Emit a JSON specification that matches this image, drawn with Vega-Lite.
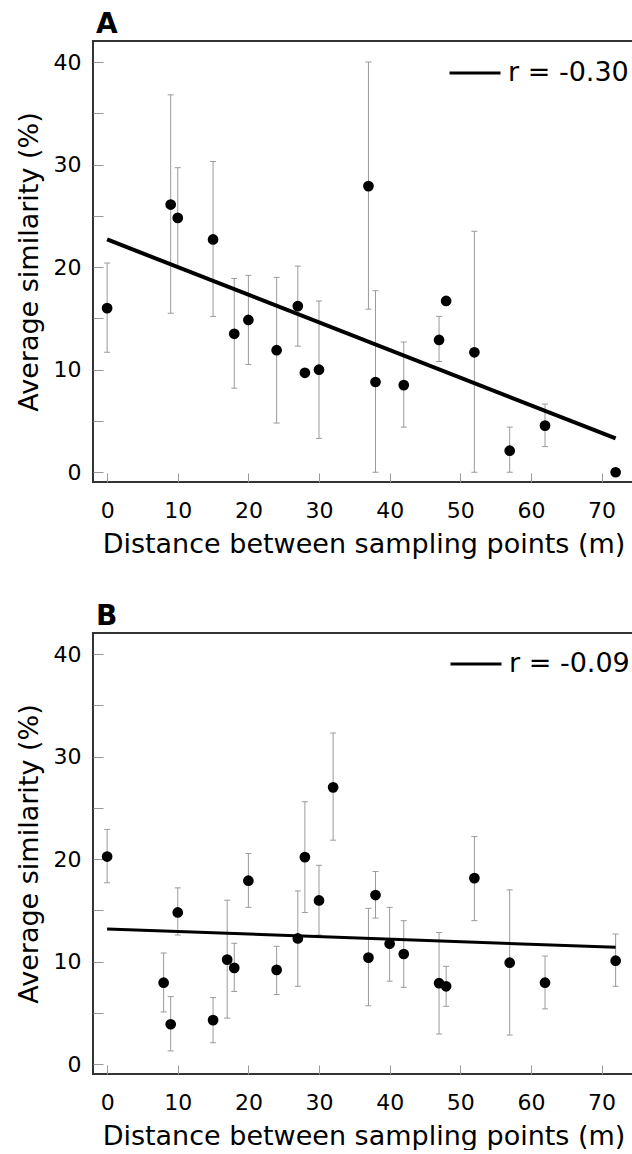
{
  "$schema": "https://vega.github.io/schema/vega-lite/v6.json",
  "background": "white",
  "padding": {"left": 14, "top": 10, "right": 0, "bottom": 0},
  "spacing": 44,
  "datasets": {
    "a": [
      {"d": 0, "s": 16.0, "lo": 11.7, "hi": 20.4},
      {"d": 9, "s": 26.1, "lo": 15.5, "hi": 36.8},
      {"d": 10, "s": 24.8, "lo": 20.0, "hi": 29.7},
      {"d": 15, "s": 22.7, "lo": 15.2, "hi": 30.3},
      {"d": 18, "s": 13.5, "lo": 8.2, "hi": 18.9},
      {"d": 20, "s": 14.85, "lo": 10.5, "hi": 19.2},
      {"d": 24, "s": 11.9, "lo": 4.8, "hi": 19.0},
      {"d": 27, "s": 16.2, "lo": 12.3, "hi": 20.1},
      {"d": 28, "s": 9.7, "lo": null, "hi": null},
      {"d": 30, "s": 10.0, "lo": 3.3, "hi": 16.7},
      {"d": 37, "s": 27.9, "lo": 15.9, "hi": 40.0},
      {"d": 38, "s": 8.8, "lo": 0.0, "hi": 17.7},
      {"d": 42, "s": 8.5, "lo": 4.4, "hi": 12.7},
      {"d": 47, "s": 12.9, "lo": 10.8, "hi": 15.2},
      {"d": 48, "s": 16.7, "lo": null, "hi": null},
      {"d": 52, "s": 11.7, "lo": 0.0, "hi": 23.5},
      {"d": 57, "s": 2.1, "lo": 0.0, "hi": 4.4},
      {"d": 62, "s": 4.55, "lo": 2.5, "hi": 6.65},
      {"d": 72, "s": 0.0, "lo": null, "hi": null}
    ],
    "afit": [
      {"d": 0, "s": 22.7, "fit": "r = -0.30"},
      {"d": 72, "s": 3.3, "fit": "r = -0.30"}
    ],
    "b": [
      {"d": 0, "s": 20.25, "lo": 17.7, "hi": 22.9},
      {"d": 8, "s": 7.95, "lo": 5.1, "hi": 10.85},
      {"d": 9, "s": 3.9, "lo": 1.3, "hi": 6.6},
      {"d": 10, "s": 14.8, "lo": 12.6, "hi": 17.2},
      {"d": 15, "s": 4.3, "lo": 2.1, "hi": 6.5},
      {"d": 17, "s": 10.2, "lo": 4.5, "hi": 16.0},
      {"d": 18, "s": 9.4, "lo": 7.1, "hi": 11.8},
      {"d": 20, "s": 17.9, "lo": 15.3, "hi": 20.55},
      {"d": 24, "s": 9.2, "lo": 6.8, "hi": 11.5},
      {"d": 27, "s": 12.27, "lo": 7.6, "hi": 16.9},
      {"d": 28, "s": 20.2, "lo": 14.8, "hi": 25.6},
      {"d": 30, "s": 15.97, "lo": 12.6, "hi": 19.4},
      {"d": 32, "s": 27.0, "lo": 21.85, "hi": 32.3},
      {"d": 37, "s": 10.4, "lo": 5.7, "hi": 15.2},
      {"d": 38, "s": 16.5, "lo": 14.25, "hi": 18.8},
      {"d": 40, "s": 11.75, "lo": 8.1, "hi": 15.3},
      {"d": 42, "s": 10.75, "lo": 7.5, "hi": 14.0},
      {"d": 47, "s": 7.9, "lo": 2.95, "hi": 12.85},
      {"d": 48, "s": 7.6, "lo": 5.65, "hi": 9.55},
      {"d": 52, "s": 18.15, "lo": 14.0, "hi": 22.2},
      {"d": 57, "s": 9.9, "lo": 2.85, "hi": 17.0},
      {"d": 62, "s": 7.95, "lo": 5.4, "hi": 10.55},
      {"d": 72, "s": 10.1, "lo": 7.6, "hi": 12.7}
    ],
    "bfit": [
      {"d": 0, "s": 13.2, "fit": "r = -0.09"},
      {"d": 72, "s": 11.4, "fit": "r = -0.09"}
    ]
  },
  "vconcat": [
    {
      "title": {"text": "A"},
      "width": 541,
      "height": 441,
      "layer": [
        {
          "data": {"name": "a"},
          "transform": [{"filter": "datum.lo != null"}],
          "mark": {"type": "rule", "color": "#9a9a9a", "strokeWidth": 1},
          "encoding": {
            "x": {"field": "d", "type": "quantitative", "scale": {"domain": [-2, 74.6], "nice": false, "zero": false}, "axis": {"title": "Distance between sampling points (m)", "values": [0, 10, 20, 30, 40, 50, 60, 70], "tickSize": -9, "labelPadding": 27, "titlePadding": 10}},
            "y": {"field": "lo", "type": "quantitative", "scale": {"domain": [-0.95, 42.05], "nice": false, "zero": false}, "axis": {"title": "Average similarity (%)", "values": [0, 5, 10, 15, 20, 25, 30, 35, 40], "labelExpr": "datum.value % 10 === 0 ? datum.label : ''", "tickSize": -10, "labelPadding": 22, "titlePadding": 10}},
            "y2": {"field": "hi"}
          }
        },
        {
          "data": {"name": "a"},
          "transform": [{"filter": "datum.lo != null"}],
          "mark": {"type": "tick", "orient": "horizontal", "size": 6, "thickness": 1, "color": "#9a9a9a", "opacity": 1},
          "encoding": {
            "x": {"field": "d", "type": "quantitative", "axis": {"title": "Distance between sampling points (m)", "values": [0, 10, 20, 30, 40, 50, 60, 70], "tickSize": -9, "labelPadding": 27, "titlePadding": 10}},
            "y": {"field": "lo", "type": "quantitative", "axis": {"title": "Average similarity (%)", "values": [0, 5, 10, 15, 20, 25, 30, 35, 40], "labelExpr": "datum.value % 10 === 0 ? datum.label : ''", "tickSize": -10, "labelPadding": 22, "titlePadding": 10}}
          }
        },
        {
          "data": {"name": "a"},
          "transform": [{"filter": "datum.lo != null"}],
          "mark": {"type": "tick", "orient": "horizontal", "size": 6, "thickness": 1, "color": "#9a9a9a", "opacity": 1},
          "encoding": {
            "x": {"field": "d", "type": "quantitative", "axis": {"title": "Distance between sampling points (m)", "values": [0, 10, 20, 30, 40, 50, 60, 70], "tickSize": -9, "labelPadding": 27, "titlePadding": 10}},
            "y": {"field": "hi", "type": "quantitative", "axis": {"title": "Average similarity (%)", "values": [0, 5, 10, 15, 20, 25, 30, 35, 40], "labelExpr": "datum.value % 10 === 0 ? datum.label : ''", "tickSize": -10, "labelPadding": 22, "titlePadding": 10}}
          }
        },
        {
          "data": {"name": "a"},
          "mark": {"type": "circle", "size": 115, "color": "black", "opacity": 1},
          "encoding": {
            "x": {"field": "d", "type": "quantitative", "axis": {"title": "Distance between sampling points (m)", "values": [0, 10, 20, 30, 40, 50, 60, 70], "tickSize": -9, "labelPadding": 27, "titlePadding": 10}},
            "y": {"field": "s", "type": "quantitative", "axis": {"title": "Average similarity (%)", "values": [0, 5, 10, 15, 20, 25, 30, 35, 40], "labelExpr": "datum.value % 10 === 0 ? datum.label : ''", "tickSize": -10, "labelPadding": 22, "titlePadding": 10}}
          }
        },
        {
          "data": {"name": "afit"},
          "mark": {"type": "line", "strokeWidth": 4},
          "encoding": {
            "x": {"field": "d", "type": "quantitative", "axis": {"title": "Distance between sampling points (m)", "values": [0, 10, 20, 30, 40, 50, 60, 70], "tickSize": -9, "labelPadding": 27, "titlePadding": 10}},
            "y": {"field": "s", "type": "quantitative", "axis": {"title": "Average similarity (%)", "values": [0, 5, 10, 15, 20, 25, 30, 35, 40], "labelExpr": "datum.value % 10 === 0 ? datum.label : ''", "tickSize": -10, "labelPadding": 22, "titlePadding": 10}},
            "color": {"field": "fit", "type": "nominal", "scale": {"range": ["black"]}, "legend": {"orient": "top-right", "title": null, "symbolType": "stroke", "symbolSize": 2601, "symbolStrokeWidth": 3, "symbolStrokeColor": "black", "labelFontSize": 27, "labelFont": "DejaVu Sans", "labelColor": "black", "labelOffset": 6, "offset": 5, "padding": 0}}
          }
        }
      ]
    },
    {
      "title": {"text": "B"},
      "width": 541,
      "height": 441,
      "layer": [
        {
          "data": {"name": "b"},
          "transform": [{"filter": "datum.lo != null"}],
          "mark": {"type": "rule", "color": "#9a9a9a", "strokeWidth": 1},
          "encoding": {
            "x": {"field": "d", "type": "quantitative", "scale": {"domain": [-2, 74.6], "nice": false, "zero": false}, "axis": {"title": "Distance between sampling points (m)", "values": [0, 10, 20, 30, 40, 50, 60, 70], "tickSize": -9, "labelPadding": 27, "titlePadding": 10}},
            "y": {"field": "lo", "type": "quantitative", "scale": {"domain": [-0.95, 42.05], "nice": false, "zero": false}, "axis": {"title": "Average similarity (%)", "values": [0, 5, 10, 15, 20, 25, 30, 35, 40], "labelExpr": "datum.value % 10 === 0 ? datum.label : ''", "tickSize": -10, "labelPadding": 22, "titlePadding": 10}},
            "y2": {"field": "hi"}
          }
        },
        {
          "data": {"name": "b"},
          "transform": [{"filter": "datum.lo != null"}],
          "mark": {"type": "tick", "orient": "horizontal", "size": 6, "thickness": 1, "color": "#9a9a9a", "opacity": 1},
          "encoding": {
            "x": {"field": "d", "type": "quantitative", "axis": {"title": "Distance between sampling points (m)", "values": [0, 10, 20, 30, 40, 50, 60, 70], "tickSize": -9, "labelPadding": 27, "titlePadding": 10}},
            "y": {"field": "lo", "type": "quantitative", "axis": {"title": "Average similarity (%)", "values": [0, 5, 10, 15, 20, 25, 30, 35, 40], "labelExpr": "datum.value % 10 === 0 ? datum.label : ''", "tickSize": -10, "labelPadding": 22, "titlePadding": 10}}
          }
        },
        {
          "data": {"name": "b"},
          "transform": [{"filter": "datum.lo != null"}],
          "mark": {"type": "tick", "orient": "horizontal", "size": 6, "thickness": 1, "color": "#9a9a9a", "opacity": 1},
          "encoding": {
            "x": {"field": "d", "type": "quantitative", "axis": {"title": "Distance between sampling points (m)", "values": [0, 10, 20, 30, 40, 50, 60, 70], "tickSize": -9, "labelPadding": 27, "titlePadding": 10}},
            "y": {"field": "hi", "type": "quantitative", "axis": {"title": "Average similarity (%)", "values": [0, 5, 10, 15, 20, 25, 30, 35, 40], "labelExpr": "datum.value % 10 === 0 ? datum.label : ''", "tickSize": -10, "labelPadding": 22, "titlePadding": 10}}
          }
        },
        {
          "data": {"name": "b"},
          "mark": {"type": "circle", "size": 115, "color": "black", "opacity": 1},
          "encoding": {
            "x": {"field": "d", "type": "quantitative", "axis": {"title": "Distance between sampling points (m)", "values": [0, 10, 20, 30, 40, 50, 60, 70], "tickSize": -9, "labelPadding": 27, "titlePadding": 10}},
            "y": {"field": "s", "type": "quantitative", "axis": {"title": "Average similarity (%)", "values": [0, 5, 10, 15, 20, 25, 30, 35, 40], "labelExpr": "datum.value % 10 === 0 ? datum.label : ''", "tickSize": -10, "labelPadding": 22, "titlePadding": 10}}
          }
        },
        {
          "data": {"name": "bfit"},
          "mark": {"type": "line", "strokeWidth": 3},
          "encoding": {
            "x": {"field": "d", "type": "quantitative", "axis": {"title": "Distance between sampling points (m)", "values": [0, 10, 20, 30, 40, 50, 60, 70], "tickSize": -9, "labelPadding": 27, "titlePadding": 10}},
            "y": {"field": "s", "type": "quantitative", "axis": {"title": "Average similarity (%)", "values": [0, 5, 10, 15, 20, 25, 30, 35, 40], "labelExpr": "datum.value % 10 === 0 ? datum.label : ''", "tickSize": -10, "labelPadding": 22, "titlePadding": 10}},
            "color": {"field": "fit", "type": "nominal", "scale": {"range": ["black"]}, "legend": {"orient": "top-right", "title": null, "symbolType": "stroke", "symbolSize": 2601, "symbolStrokeWidth": 3, "symbolStrokeColor": "black", "labelFontSize": 27, "labelFont": "DejaVu Sans", "labelColor": "black", "labelOffset": 6, "offset": 4, "padding": 0}}
          }
        }
      ]
    }
  ],
  "resolve": {"scale": {"color": "independent"}, "legend": {"color": "independent"}},
  "config": {
    "view": {"stroke": "#333333", "strokeWidth": 2},
    "axis": {
      "domain": false,
      "grid": false,
      "tickColor": "#999999",
      "tickWidth": 1,
      "labelFont": "DejaVu Sans",
      "labelFontSize": 22,
      "labelColor": "black",
      "labelFlush": false,
      "titleFont": "DejaVu Sans",
      "titleFontSize": 27,
      "titleFontWeight": "normal",
      "titleColor": "black"
    },
    "title": {"font": "DejaVu Sans", "fontSize": 28, "fontWeight": "bold", "anchor": "start", "frame": "group", "offset": 2, "color": "black", "dx": 3}
  }
}
